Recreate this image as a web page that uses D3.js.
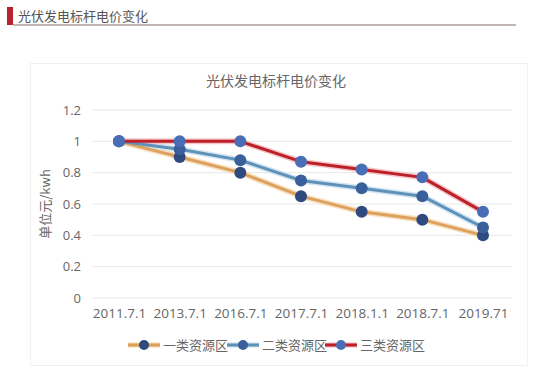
<!DOCTYPE html>
<html><head><meta charset="utf-8">
<script src="https://cdn.jsdelivr.net/npm/d3@7"></script>
<style>body{margin:0;background:#fff;}svg{display:block;font-family:"Noto Sans CJK SC","Microsoft YaHei",sans-serif;}</style>
</head><body><svg id="c" width="554" height="376"></svg>
<script>
const categories = ["2011.7.1","2013.7.1","2016.7.1","2017.7.1","2018.1.1","2018.7.1","2019.71"];
const seriesNames = ["一类资源区","二类资源区","三类资源区"];
const class1 = [1, 0.9, 0.8, 0.65, 0.55, 0.5, 0.4];
const class2 = [1, 0.95, 0.88, 0.75, 0.7, 0.65, 0.45];
const class3 = [1, 1, 1, 0.87, 0.82, 0.77, 0.55];
const yTicks = [0, 0.2, 0.4, 0.6, 0.8, 1, 1.2];
const pageTitle = "光伏发电标杆电价变化";
const chartTitle = "光伏发电标杆电价变化";
const yTitle = "单位元/kwh";

const series = [
  {name: seriesNames[0], values: class1, line: "#DDA15E", glow: "#F6D9B0", dot: "#2E4A7E"},
  {name: seriesNames[1], values: class2, line: "#5E92B8", glow: "#C8DFEF", dot: "#3A609C"},
  {name: seriesNames[2], values: class3, line: "#BE2029", glow: "#F1B9BB", dot: "#4A6EB6"}
];

const svg = d3.select("#c");

// header
svg.append("rect").attr("x",7).attr("y",7).attr("width",6).attr("height",18).attr("fill","#B8232B");
svg.append("line").attr("x1",13).attr("x2",516).attr("y1",25).attr("y2",25).attr("stroke","#8A6A68").attr("stroke-width",1);
svg.append("text").attr("x",18).attr("y",21).attr("font-size",13).attr("fill","#555").text(pageTitle);

// chart box
svg.append("rect").attr("x",30.5).attr("y",63.5).attr("width",497).attr("height",302).attr("fill","#fff").attr("stroke","#f0f0f0");

const x = d3.scalePoint().domain(categories).range([119,483]);
const y = d3.scaleLinear().domain([0,1.2]).range([298,110]);

svg.append("text").attr("x",276).attr("y",86).attr("text-anchor","middle").attr("font-size",14).attr("fill","#666").text(chartTitle);

// grid
svg.append("g").selectAll("line").data(yTicks).join("line")
  .attr("x1",92).attr("x2",512).attr("y1",d=>y(d)).attr("y2",d=>y(d))
  .attr("stroke","#e8e8e8").attr("stroke-width",1);

// y axis
const ya = svg.append("g").attr("transform","translate(81,0)")
  .call(d3.axisLeft(y).tickValues(yTicks).tickSize(0).tickPadding(0).tickFormat(d=>d3.format("~g")(d)));
ya.select(".domain").remove();
ya.selectAll("text").attr("font-size",13).attr("fill","#666").style("font-family","'Open Sans',Roboto,sans-serif");

// x axis
const xa = svg.append("g").attr("transform","translate(0,298)")
  .call(d3.axisBottom(x).tickSize(0).tickPadding(10));
xa.select(".domain").remove();
xa.selectAll("text").attr("font-size",13.5).attr("fill","#666").style("font-family","'Open Sans',Roboto,sans-serif");

svg.append("text").attr("transform","translate(50,204) rotate(-90)").attr("text-anchor","middle")
  .attr("font-size",13).attr("fill","#666").text(yTitle);

const line = d3.line().x((d,i)=>x(categories[i])).y(d=>y(d));
series.forEach(s=>{
  svg.append("path").attr("d",line(s.values)).attr("fill","none").attr("stroke",s.glow).attr("stroke-width",6).attr("stroke-linejoin","round").attr("opacity",0.8);
});
series.forEach(s=>{
  svg.append("path").attr("d",line(s.values)).attr("fill","none").attr("stroke",s.line).attr("stroke-width",3).attr("stroke-linejoin","round");
  svg.append("g").selectAll("circle").data(s.values).join("circle")
    .attr("cx",(d,i)=>x(categories[i])).attr("cy",d=>y(d)).attr("r",6).attr("fill",s.dot);
});

// legend
const legX = [128, 227, 325];
series.forEach((s,i)=>{
  const g = svg.append("g").attr("transform",`translate(${legX[i]},345)`);
  g.append("line").attr("x1",0).attr("x2",32).attr("stroke",s.glow).attr("stroke-width",5);
  g.append("line").attr("x1",0).attr("x2",32).attr("stroke",s.line).attr("stroke-width",3);
  g.append("circle").attr("cx",16).attr("r",5).attr("fill",s.dot);
  g.append("text").attr("x",35).attr("y",5).attr("font-size",13).attr("fill","#666").text(s.name);
});
</script></body></html>
